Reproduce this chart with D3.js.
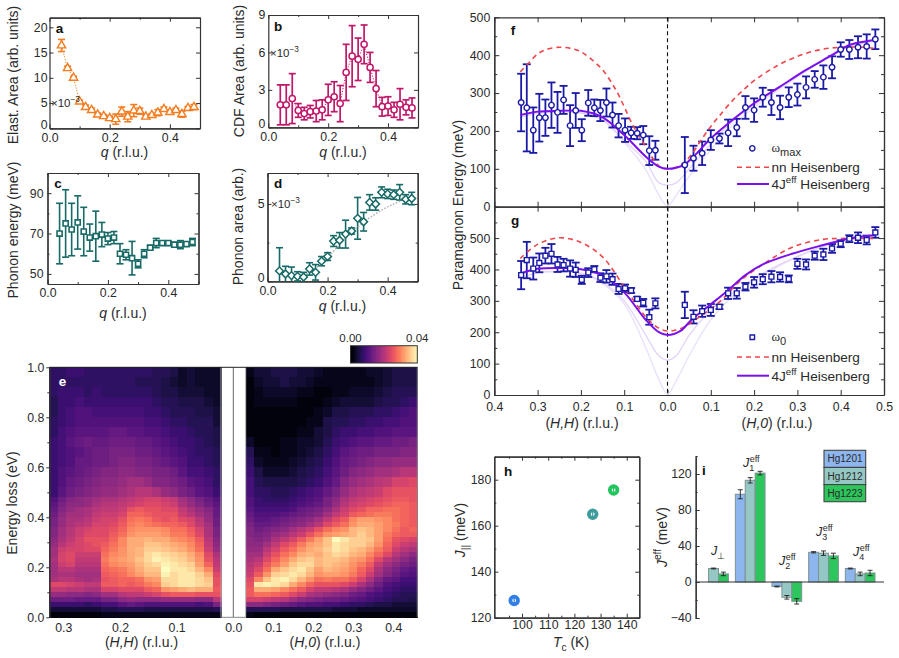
<!DOCTYPE html>
<html>
<head>
<meta charset="utf-8">
<script src="https://cdn.jsdelivr.net/npm/d3@7/dist/d3.min.js"></script>
<style>
  html, body { margin: 0; padding: 0; background: #fff; }
  svg { display: block; font-family: "Liberation Sans", Arial, sans-serif; }
</style>
</head>
<body>
<svg id="fig" width="899" height="658"></svg>
<script>
// Momentum grid shared by the RIXS fit parameters (panels a-d)
const qGrid = [0.04,0.06,0.08,0.10,0.12,0.14,0.16,0.18,0.20,0.22,0.24,0.26,0.28,0.30,0.32,0.34,0.36,0.38,0.40,0.42,0.44,0.46,0.48];

const elasticArea = [16.4,11.9,10.0,5.3,4.2,3.6,2.7,2.4,2.0,1.8,3.3,2.3,3.5,3.4,2.3,2.6,3.1,3.8,3.2,3.6,2.8,4.0,4.2];
const elasticErr  = [1.2,0.4,0.3,0.3,0.4,0.4,0.3,0.3,0.4,1.0,0.9,1.0,1.2,0.6,0.3,0.3,0.6,0.4,0.4,0.4,0.6,0.3,0.5];

const cdfArea = [1.8,1.8,2.3,1.35,1.1,1.25,1.3,1.4,2.2,2.45,1.9,4.4,5.7,5.45,6.65,4.8,3.1,1.65,1.7,1.4,1.85,1.6,1.55];
const cdfErr  = [1.6,1.6,2.0,0.55,0.5,0.5,0.85,0.8,1.25,1.2,1.45,2.25,2.45,1.7,1.55,1.2,1.45,0.75,0.75,0.6,1.25,0.6,0.8];

const phononEnergy = [70,75,72,75.5,71,68,68.7,69.5,67.5,68,60,59.5,57.8,55,60,63,65.3,65.3,65.3,64.5,64.5,64.8,65.8];
const phononEnergyErr = [15,16.7,13,13.2,12,6.7,12.4,6,3,3,5,2.5,8.3,2,2,1,2.3,0.7,0.7,1,2,1,1.8];

const phononArea = [0.67,0.47,0.37,0.32,0.28,0.8,0.58,1.3,1.6,2.6,2.65,3.05,3.25,4.07,3.85,5.1,5.0,5.75,5.65,5.6,5.75,5.3,5.35];
const phononAreaErr = [1.5,0.5,0.55,0.3,0.3,0.4,0.5,0.3,0.25,0.35,0.5,0.9,0.2,1.35,0.6,0.5,0.4,0.35,0.3,0.3,0.5,0.3,0.4];
const phononFitQ = [0.10,0.14,0.18,0.22,0.26,0.30,0.34,0.38,0.42,0.46,0.48];
const phononFit  = [0.2,0.6,1.15,1.95,2.8,3.5,4.1,4.6,5.0,5.3,5.4];

// Paramagnon dispersion; negative momenta run along (H,H), positive along (H,0)
const magnonQ = [-0.338,-0.325,-0.31,-0.296,-0.282,-0.268,-0.254,-0.24,-0.225,-0.212,-0.198,-0.183,-0.169,-0.155,-0.141,-0.127,-0.113,-0.098,-0.084,-0.07,-0.056,-0.042,-0.028,
  0.04,0.06,0.08,0.10,0.12,0.14,0.16,0.18,0.20,0.22,0.24,0.26,0.28,0.30,0.32,0.34,0.36,0.38,0.40,0.42,0.44,0.46,0.48];

const omegaMax = [275,261,202,235,235,268,249,282,214,254,202,274,261,254,275,242,214,202,195,194,189,148,149,
  110,128,141,176,180,195,209,262,255,289,275,262,289,296,315,336,342,368,415,415,421,423,442];
const omegaMaxErr = [76,115,60,63,48,60,54,37,54,46,29,34,22,28,37,33,31,31,16,16,24,38,25,
  74,33,31,26,13,35,23,30,31,25,33,31,26,29,29,22,31,29,19,25,29,32,26];

const omegaZero = [382,430,403,421,444,450,416,414,403,399,367,390,401,374,378,369,338,340,333,306,294,248,292,
  287,249,267,271,281,324,324,345,359,369,377,376,370,418,416,444,448,467,482,498,501,494,518];
const omegaZeroErr = [45,58,35,30,25,31,24,20,26,23,13,14,10,14,20,18,16,12,8,7,12,24,16,
  42,21,18,19,7,18,17,12,17,16,18,15,11,16,16,13,18,14,11,11,17,14,17];

// Model curves for the maximum-position dispersion
const nnMaxQ = [-0.34,-0.32,-0.30,-0.28,-0.25,-0.22,-0.20,-0.18,-0.15,-0.12,-0.10,-0.08,-0.05,-0.03,-0.015,0,0.02,0.04,0.06,0.08,0.10,0.12,0.15,0.18,0.20,0.25,0.30,0.35,0.40,0.45,0.48];
const nnMax  = [356,380,403,415,421,417,409,393,361,310,264,215,158,121,103,100,104,118,145,180,212,240,280,313,333,370,397,414,421,421,418];
const effMaxQ = [-0.34,-0.30,-0.25,-0.20,-0.15,-0.10,-0.05,-0.02,0,0.02,0.04,0.06,0.10,0.16,0.20,0.26,0.32,0.38,0.42,0.46,0.48];
const effMax  = [242,251,253,253,236,189,132,106,100,103,112,132,180,238,273,317,361,400,427,437,440];
const faintQ = [-0.34,-0.30,-0.25,-0.20,-0.15,-0.10,-0.05,-0.02,0,0.02,0.05,0.10,0.15,0.20,0.30,0.40,0.48];
const faintMaxA = [236,247,250,248,230,175,119,63,57,63,100,165,225,268,345,415,438];
const faintMaxB = [236,247,250,247,228,170,97,31,2,30,80,150,215,262,342,413,438];

// Model curves for the undamped-energy dispersion
const nnZeroQ = [-0.34,-0.30,-0.25,-0.20,-0.15,-0.10,-0.05,-0.02,0,0.02,0.04,0.075,0.12,0.17,0.23,0.29,0.36,0.415,0.475];
const nnZero  = [435,480,501,486,440,345,249,213,204,207,218,250,297,366,425,472,496,499,499];
const effZeroQ = [-0.34,-0.30,-0.25,-0.20,-0.15,-0.10,-0.05,-0.02,0,0.03,0.055,0.10,0.14,0.18,0.22,0.29,0.36,0.42,0.48];
const effZero  = [387,402,405,401,382,327,239,200,191,204,239,289,334,382,416,451,478,499,510];
const faintZeroQ = [-0.34,-0.30,-0.25,-0.20,-0.15,-0.10,-0.05,-0.02,0,0.02,0.05,0.10,0.15,0.20,0.30,0.40,0.48];
const faintZeroA = [370,390,393,388,360,300,190,125,111,125,190,270,325,372,442,490,508];
const faintZeroB = [370,390,393,386,355,290,150,50,2,45,125,240,315,365,440,490,508];

// Panel h: superexchange versus critical temperature
const compounds = ["Hg1201","Hg1212","Hg1223"];
const criticalTemp = [97,127,135];
const jParallel = [127.5,165,175.5];
const jParallelErr = [1.5,1.5,1.5];

// Panel i: effective couplings by compound; null marks a coupling that is absent
const couplingNames = ["Jperp","J1","J2","J3","J4"];
const hg1201Values = [null,97.5,-5,33,15];
const hg1212Values = [15,113,-17,32,9];
const hg1223Values = [9,121,-21.5,29,10];
const hg1201Errors = [null,5,0.5,0.7,0.5];
const hg1212Errors = [0.5,3,2,2.5,2];
const hg1223Errors = [2,2,3,3,3];

// RIXS intensity map (units of 1e-3). Energy bins in eV: coarse high up, finer below 0.48 eV.
const energyEdges = [1.00,0.96,0.92,0.88,0.84,0.80,0.76,0.72,0.68,0.64,0.60,0.56,0.52,0.48,0.46,0.44,0.42,0.40,0.38,0.36,0.34,0.32,0.30,0.28,0.26,0.24,0.22,0.20,0.18,0.16,0.14,0.12,0.10,0.08,0.06,0.04,0.02,0.00];
// Columns run from H = 0.325 towards H = 0.02 along (H,H)
const intensityHH = [
[7,7,8,8,7,7,7,7,7,7,7,7,6,6,5,3,4,3,3,3],
[7,7,7,7,7,7,7,7,7,7,6,6,6,5,4,3,4,3,3,3],
[7,8,8,8,7,8,7,7,7,7,7,7,6,5,5,4,4,4,3,3],
[6,8,8,9,8,8,8,8,8,8,8,8,7,6,6,5,5,5,4,3],
[6,8,9,10,10,9,9,9,9,9,9,8,8,7,6,6,6,5,5,4],
[7,8,9,10,10,10,10,10,10,10,10,9,9,8,7,7,6,6,6,4],
[7,9,10,11,11,11,11,12,12,11,11,10,10,9,8,8,7,6,6,5],
[8,9,11,12,13,12,12,13,13,13,12,12,11,10,9,8,8,7,6,5],
[8,9,10,11,12,13,13,14,14,14,13,13,12,11,10,9,8,7,7,6],
[8,9,10,12,12,13,13,14,15,15,14,14,13,12,11,10,8,8,7,6],
[8,10,11,12,13,14,15,15,16,16,15,15,14,14,13,11,9,9,8,7],
[8,10,12,13,14,15,16,16,17,18,18,17,15,15,14,13,11,10,9,7],
[8,11,13,14,15,16,17,17,18,19,20,20,19,17,16,14,13,11,10,8],
[10,13,15,16,17,18,19,19,20,21,22,23,23,22,21,18,16,14,12,10],
[11,14,16,16,17,19,20,20,21,22,23,24,24,23,22,19,17,15,13,11],
[12,15,17,18,19,20,21,21,22,25,26,25,25,24,24,21,19,17,15,12],
[13,16,18,18,19,21,22,22,23,27,27,26,25,25,25,22,20,18,16,12],
[14,17,19,19,20,22,23,23,25,28,29,28,26,25,26,24,23,20,17,13],
[14,17,19,20,21,23,23,24,26,29,30,29,28,27,27,26,24,21,18,13],
[15,18,20,22,23,24,24,25,27,30,31,31,31,30,28,28,26,23,19,14],
[15,18,20,22,24,24,24,26,28,31,32,32,32,31,29,29,27,24,19,14],
[16,19,21,23,25,25,25,27,30,33,33,34,33,33,31,30,29,26,20,15],
[17,20,22,23,24,25,26,28,30,33,33,35,35,34,33,32,30,27,21,16],
[18,22,23,23,24,24,27,29,31,33,34,36,36,35,34,33,31,28,22,17],
[18,23,24,22,22,22,28,30,31,33,34,37,38,37,36,35,33,30,24,19],
[19,23,24,21,21,21,29,31,32,33,35,37,39,38,37,36,34,31,25,20],
[18,22,23,20,20,20,28,30,31,32,34,36,37,39,38,37,36,32,27,21],
[18,20,20,19,19,19,27,28,29,31,33,35,35,40,38,38,37,34,30,22],
[18,19,19,18,18,18,26,27,28,30,32,34,34,39,37,38,38,36,33,24],
[19,20,20,19,18,19,25,26,27,27,28,31,32,37,37,38,38,37,35,25],
[24,24,23,22,21,21,26,26,27,26,27,29,30,36,37,38,38,37,36,25],
[21,21,20,20,19,19,23,23,24,24,24,26,27,31,32,33,34,33,33,26],
[17,17,16,16,15,16,18,18,20,21,21,22,23,25,26,26,26,25,25,25],
[13,13,13,12,12,12,14,14,16,17,16,16,16,17,17,17,17,16,16,20],
[8,8,8,8,7,8,9,9,11,12,11,10,10,10,10,10,10,9,10,14],
[4,4,4,4,4,4,5,5,6,6,6,5,5,5,5,5,5,5,5,6],
[1,1,1,1,1,1,2,2,2,2,2,2,2,2,2,2,2,2,2,2]
];
// Columns run from H = 0.03 to H = 0.46 along (H,0)
const intensityH0 = [
[2,4,4,5,5,5,4,4,3,2,2,2,2,2,3,3,4,5,5,5],
[1,3,4,4,5,4,4,3,2,2,2,2,2,2,2,3,4,5,5,5],
[1,2,3,3,3,3,2,2,1,1,2,2,3,3,3,4,5,6,6,6],
[1,2,2,2,2,2,1,1,1,2,3,4,4,4,4,5,6,6,7,8],
[1,1,1,1,1,1,1,1,2,3,5,5,6,6,6,7,7,8,9,10],
[1,1,1,1,1,1,1,2,2,5,6,6,7,7,8,8,9,9,10,10],
[1,1,1,1,1,1,2,2,4,5,7,8,8,9,9,10,10,11,11,11],
[3,1,1,1,2,2,3,3,4,6,8,9,10,11,11,12,12,13,13,14],
[6,2,2,1,2,2,3,4,5,7,9,11,12,13,13,14,14,14,15,15],
[7,3,2,2,2,3,4,5,6,8,10,12,13,14,15,16,16,17,17,17],
[8,5,3,3,3,4,5,6,7,9,11,13,15,16,17,18,18,19,20,20],
[9,6,5,5,5,5,6,7,8,10,12,15,17,18,19,20,21,23,23,24],
[9,7,7,6,6,7,8,9,10,12,14,17,19,20,21,22,24,25,25,25],
[10,8,7,7,7,8,9,10,11,14,16,19,21,22,23,24,25,26,26,25],
[10,8,8,8,8,9,10,11,12,14,17,20,22,23,24,25,26,27,27,26],
[11,9,9,9,9,10,12,13,14,16,19,22,24,25,27,27,28,28,27,26],
[12,10,10,10,11,12,13,14,15,18,21,23,26,27,28,29,29,28,27,26],
[13,11,11,12,13,14,15,16,18,21,24,26,30,32,32,31,30,28,27,26],
[14,12,12,13,14,15,16,18,20,24,26,28,31,33,33,32,30,29,27,26],
[15,13,14,15,16,18,20,22,25,28,30,31,34,35,34,32,30,28,26,27],
[15,14,15,17,18,20,22,25,28,31,32,33,34,36,34,32,29,27,26,26],
[16,15,16,19,21,23,26,29,32,35,40,38,36,36,35,32,28,25,24,23],
[16,16,18,21,24,26,29,32,33,35,38,37,36,36,34,31,27,24,22,21],
[17,17,20,23,26,28,31,33,34,36,38,37,35,34,32,29,26,22,20,19],
[18,18,22,25,28,30,33,34,33,35,37,36,34,33,30,27,24,20,18,16],
[19,20,24,27,30,33,35,36,34,35,35,34,32,31,28,24,20,18,16,14],
[20,22,26,29,32,35,37,37,34,35,34,33,31,29,26,21,18,16,14,13],
[21,24,28,33,35,37,38,35,32,34,33,32,30,27,24,19,16,14,12,11],
[22,26,31,36,37,38,37,34,31,32,32,31,29,26,22,18,15,13,11,10],
[24,30,35,38,39,37,34,31,28,29,28,28,26,23,19,15,12,11,9,9],
[25,38,39,38,37,33,30,27,25,25,25,24,22,19,16,13,10,9,8,8],
[26,33,33,32,30,28,26,23,21,21,20,19,17,15,13,11,9,8,7,7],
[26,28,28,27,26,24,22,19,18,17,16,15,13,12,10,9,8,7,6,6],
[23,23,22,21,20,18,16,15,14,13,13,12,11,10,9,8,7,6,6,5],
[16,16,15,14,13,12,11,10,10,9,9,8,7,7,6,5,5,4,4,4],
[6,6,6,6,5,5,5,5,5,5,4,4,4,3,3,3,3,3,3,3],
[2,1,1,1,1,1,1,1,1,1,1,1,1,1,1,1,1,1,1,1]
];

const ink = "#2a2a2a";
const svg = d3.select("#fig");

// Text made of plain, italic, sub- and superscript runs
function richText(parent, x, y, parts, opt = {}) {
  const size = opt.size || 14;
  const t = parent.append("text")
    .attr("transform", `translate(${x},${y})` + (opt.rotate ? ` rotate(${opt.rotate})` : ""))
    .attr("text-anchor", opt.anchor || "start")
    .attr("font-size", size)
    .attr("fill", opt.fill || ink);
  let offset = 0;
  parts.forEach(p => {
    const target = p.sub ? size * 0.32 : p.sup ? -size * 0.42 : 0;
    const ts = t.append("tspan").text(p.t).attr("dy", target - offset);
    if (p.dx) ts.attr("dx", p.dx);
    if (p.i) ts.attr("font-style", "italic");
    if (p.font) ts.attr("font-family", p.font);
    if (p.sub || p.sup) ts.attr("font-size", size * (p.scale || 0.72));
    offset = target;
  });
  return t;
}

function styleAxis(g) {
  g.selectAll(".domain").attr("stroke", "#333").attr("stroke-width", 1.2);
  g.selectAll(".tick line").attr("stroke", "#333").attr("stroke-width", 1);
  g.selectAll("text").attr("fill", ink).attr("font-family", null).attr("font-size", 12.3);
}

// Boxed frame with inward ticks on all four sides
function frame(o) {
  const x = d3.scaleLinear().domain(o.xDomain).range([o.left, o.right]);
  const y = d3.scaleLinear().domain(o.yDomain).range([o.bottom, o.top]);
  const g = svg.append("g");
  const xFmt = o.xFormat || d3.format(".1f");
  const yFmt = o.yFormat || (d => d);
  const majorLen = o.majorLen || 4, minorLen = o.minorLen || 2;
  const layers = [
    [d3.axisBottom(x).tickValues(o.xTicks).tickSize(-majorLen).tickSizeOuter(0).tickPadding(o.xPad ?? 4).tickFormat(o.noXLabels ? "" : xFmt), `translate(0,${o.bottom})`],
    [d3.axisLeft(y).tickValues(o.yTicks).tickSize(-majorLen).tickSizeOuter(0).tickPadding(o.yPad ?? 3).tickFormat(yFmt), `translate(${o.left},0)`],
    [d3.axisTop(x).tickValues(o.xTicks).tickSize(-majorLen).tickSizeOuter(0).tickFormat(""), `translate(0,${o.top})`],
    [d3.axisRight(y).tickValues(o.yTicks).tickSize(-majorLen).tickSizeOuter(0).tickFormat(""), `translate(${o.right},0)`]
  ];
  if (o.xMinor) {
    layers.push([d3.axisBottom(x).tickValues(o.xMinor).tickSize(-minorLen).tickSizeOuter(0).tickFormat(""), `translate(0,${o.bottom})`]);
    layers.push([d3.axisTop(x).tickValues(o.xMinor).tickSize(-minorLen).tickSizeOuter(0).tickFormat(""), `translate(0,${o.top})`]);
  }
  if (o.yMinor) {
    layers.push([d3.axisLeft(y).tickValues(o.yMinor).tickSize(-minorLen).tickSizeOuter(0).tickFormat(""), `translate(${o.left},0)`]);
    layers.push([d3.axisRight(y).tickValues(o.yMinor).tickSize(-minorLen).tickSizeOuter(0).tickFormat(""), `translate(${o.right},0)`]);
  }
  layers.forEach(([axis, tr], i) => {
    const a = g.append("g").attr("transform", tr).call(axis).call(styleAxis);
    // Lift the y-axis zero so it clears the x-axis labels beneath it
    if (i === 1 && o.liftZero) {
      a.selectAll(".tick").filter(d => d === 0).select("text").attr("transform", "translate(0,-4)");
    }
  });
  return { x, y, g };
}

function errorBars(parent, xs, ys, errs, x, y, color, capWidth, width) {
  const cap = capWidth / 2;
  xs.forEach((q, i) => {
    const a = y(ys[i] - errs[i]), b = y(ys[i] + errs[i]);
    const yBase = y.range()[0];
    const yLow = Math.min(a, yBase);
    const g = parent.append("g").attr("stroke", color).attr("stroke-width", width);
    g.append("line").attr("x1", x(q)).attr("x2", x(q)).attr("y1", yLow).attr("y2", b);
    if (a <= yBase) g.append("line").attr("x1", x(q) - cap).attr("x2", x(q) + cap).attr("y1", a).attr("y2", a);
    g.append("line").attr("x1", x(q) - cap).attr("x2", x(q) + cap).attr("y1", b).attr("y2", b);
  });
}

function markers(parent, xs, ys, x, y, type, size, color, strokeWidth, rotate = 0) {
  const path = d3.symbol().type(type).size(size)();
  parent.selectAll(null).data(xs).join("path")
    .attr("d", path)
    .attr("transform", (q, i) => `translate(${x(q)},${y(ys[i])}) rotate(${rotate})`)
    .attr("fill", "#fff").attr("stroke", color).attr("stroke-width", strokeWidth);
}

function curve(parent, xs, ys, x, y, color, width, dash, factory = d3.curveCatmullRom) {
  const line = d3.line().x(d => x(d[0])).y(d => y(d[1])).curve(factory);
  parent.append("path").attr("d", line(xs.map((q, i) => [q, ys[i]])))
    .attr("fill", "none").attr("stroke", color).attr("stroke-width", width)
    .attr("stroke-dasharray", dash || null);
}

function panelLetter(x, y, letter, fill = "#111") {
  svg.append("text").attr("x", x).attr("y", y).attr("text-anchor", "middle")
    .attr("font-size", 13.5).attr("font-weight", "bold").attr("fill", fill).text(letter);
}

function qTitle(x, y) {
  richText(svg, x, y, [{ t: "q", i: true }, { t: " (r.l.u.)" }], { anchor: "middle" });
}
function yTitle(x, y, label) {
  richText(svg, x, y, [{ t: label }], { anchor: "middle", rotate: -90 });
}
function scaleNote(x, y) {
  richText(svg, x, y, [{ t: "×10" }, { t: "−3", sup: true }], { size: 11.5 });
}

const xMinorQ = [0.1, 0.3, 0.5];

// Panel a: elastic line area
{
  const p = frame({ left: 49.5, right: 200, top: 17.7, bottom: 128.3, xDomain: [0, 0.5], yDomain: [0, 21.9],
    xTicks: [0, 0.2, 0.4], xMinor: xMinorQ, yTicks: [0, 5, 10, 15, 20], xPad: 5, yPad: 2, liftZero: true });
  curve(p.g, qGrid, elasticArea, p.x, p.y, "#f58220", 1, "1.2 1.6", d3.curveLinear);
  errorBars(p.g, qGrid, elasticArea, elasticErr, p.x, p.y, "#f57c1f", 7, 1.6);
  markers(p.g, qGrid, elasticArea, p.x, p.y, d3.symbolTriangle, 30, "#f57c1f", 1.4);
  panelLetter(59.5, 33, "a");
  scaleNote(51, 107);
  qTitle(124.5, 156.5);
  yTitle(17.5, 75, "Elast. Area (arb. units)");
}

// Panel b: charge density fluctuation area
{
  const p = frame({ left: 268.3, right: 418, top: 15, bottom: 127.3, xDomain: [0, 0.5], yDomain: [0, 9],
    xTicks: [0, 0.2, 0.4], xMinor: xMinorQ, yTicks: [0, 3, 6, 9], xPad: 5, yPad: 3, liftZero: true });
  curve(p.g, qGrid, cdfArea, p.x, p.y, "#c2185b", 1, "1.2 1.6", d3.curveLinear);
  errorBars(p.g, qGrid, cdfArea, cdfErr, p.x, p.y, "#c0176a", 7, 1.7);
  markers(p.g, qGrid, cdfArea, p.x, p.y, d3.symbolCircle, 30, "#c0176a", 1.5);
  panelLetter(278, 31, "b");
  scaleNote(270, 57);
  qTitle(343, 156.5);
  yTitle(243.5, 71, "CDF Area (arb. units)");
}

// Panel c: phonon energy
{
  const p = frame({ left: 47.5, right: 198.5, top: 173, bottom: 284, xDomain: [0, 0.5], yDomain: [45, 100],
    xTicks: [0, 0.2, 0.4], xMinor: xMinorQ, yTicks: [50, 70, 90], yMinor: [60, 80, 100], yPad: 4 });
  errorBars(p.g, qGrid, phononEnergy, phononEnergyErr, p.x, p.y, "#176a66", 7, 1.6);
  markers(p.g, qGrid, phononEnergy, p.x, p.y, d3.symbolSquare, 26, "#176a66", 1.6);
  panelLetter(58, 188, "c");
  qTitle(123, 318);
  yTitle(17.5, 230, "Phonon energy (meV)");
}

// Panel d: phonon area with its smooth fit
{
  const p = frame({ left: 267.5, right: 417.7, top: 173, bottom: 281.3, xDomain: [0, 0.5], yDomain: [0, 7],
    xTicks: [0, 0.2, 0.4], xMinor: xMinorQ, yTicks: [0, 5], yMinor: [2.5], xPad: 5, yPad: 3, liftZero: true });
  errorBars(p.g, qGrid, phononArea, phononAreaErr, p.x, p.y, "#176a66", 7, 1.6);
  curve(p.g, phononFitQ, phononFit, p.x, p.y, "#b5b5b5", 1.6, "1.6 1.6");
  markers(p.g, qGrid, phononArea, p.x, p.y, d3.symbolSquare, 30, "#176a66", 1.5, 45);
  panelLetter(278, 188, "d");
  scaleNote(271, 208);
  qTitle(342.5, 310.5);
  yTitle(243, 226.5, "Phonon area (arb.)");
}

// Panel e: intensity maps either side of the blocked specular window
{
  const color = d3.scaleSequential(d3.interpolateMagma).domain([0, 40]);
  const top = 367.3, bottom = 617.3, zeroX = 233.3;
  const y = d3.scaleLinear().domain([0, 1]).range([bottom, top]);
  const xHH = d3.scaleLinear().domain([0, 0.3]).range([zeroX, 63.3]);
  const xH0 = d3.scaleLinear().domain([0, 0.4]).range([zeroX, 393.3]);
  const bins = d3.pairs(energyEdges);
  const cells = svg.append("g").attr("shape-rendering", "crispEdges");
  const drawMap = (rows, x, qStart, qEnd) => {
    const nCols = rows[0].length;
    const width = (qEnd - qStart) / nCols;
    rows.forEach((row, r) => {
      const [eHigh, eLow] = bins[r];
      row.forEach((v, c) => {
        const x0 = x(qStart + c * width), x1 = x(qStart + (c + 1) * width);
        cells.append("rect")
          .attr("x", Math.min(x0, x1)).attr("width", Math.abs(x1 - x0) + 0.5)
          .attr("y", y(eHigh)).attr("height", y(eLow) - y(eHigh) + 0.5)
          .attr("fill", color(v));
      });
    });
  };
  drawMap(intensityHH, xHH, 0.325, 0.0215);
  drawMap(intensityH0, xH0, 0.031, 0.46);

  // Frame, centre line and the blocked window
  const axes = svg.append("g");
  axes.append("line").attr("x1", 221).attr("x2", 221).attr("y1", top).attr("y2", bottom).attr("stroke", "#aaa");
  axes.append("line").attr("x1", 245.7).attr("x2", 245.7).attr("y1", top).attr("y2", bottom).attr("stroke", "#aaa");
  axes.append("line").attr("x1", zeroX).attr("x2", zeroX).attr("y1", top).attr("y2", bottom).attr("stroke", "#666").attr("stroke-width", 1);
  axes.append("line").attr("x1", 49.3).attr("x2", 417.3).attr("y1", top).attr("y2", top).attr("stroke", "#222").attr("stroke-width", 1);
  axes.append("line").attr("x1", 221).attr("x2", 245.7).attr("y1", bottom).attr("y2", bottom).attr("stroke", "#888");
  axes.append("line").attr("x1", 417.3).attr("x2", 417.3).attr("y1", top).attr("y2", bottom).attr("stroke", "#888");
  axes.append("g").attr("transform", "translate(49.3,0)")
    .call(d3.axisLeft(y).tickValues([0, 0.2, 0.4, 0.6, 0.8, 1]).tickSize(3).tickSizeOuter(0).tickPadding(2).tickFormat(d3.format(".1f")))
    .call(styleAxis);
  axes.append("g").attr("transform", "translate(49.3,0)")
    .call(d3.axisLeft(y).tickValues([0.1, 0.3, 0.5, 0.7, 0.9]).tickSize(2).tickSizeOuter(0).tickFormat(""))
    .call(styleAxis);
  axes.append("g").attr("transform", `translate(0,${bottom})`)
    .call(d3.axisBottom(xHH).tickValues([0.3, 0.2, 0.1]).tickSize(0).tickSizeOuter(0).tickPadding(5.5).tickFormat(d3.format(".1f")))
    .call(styleAxis).call(g => g.select(".domain").remove());
  axes.append("g").attr("transform", `translate(0,${bottom})`)
    .call(d3.axisBottom(xH0).tickValues([0, 0.1, 0.2, 0.3, 0.4]).tickSize(0).tickSizeOuter(0).tickPadding(5.5).tickFormat(d3.format(".1f")))
    .call(styleAxis).call(g => g.select(".domain").remove());

  panelLetter(62.5, 386, "e", "#fff");
  richText(svg, 141.5, 647, [{ t: "(" }, { t: "H,H", i: true }, { t: ") (r.l.u.)" }], { anchor: "middle" });
  richText(svg, 325, 647, [{ t: "(" }, { t: "H,0", i: true }, { t: ") (r.l.u.)" }], { anchor: "middle" });
  yTitle(17, 503, "Energy loss (eV)");

  // Colour bar
  const barX = d3.scaleLinear().domain([0, 40]).range([350.5, 417.3]);
  const bar = svg.append("g").attr("shape-rendering", "crispEdges");
  d3.range(0, 40, 0.5).forEach(v => {
    bar.append("rect").attr("x", barX(v)).attr("width", barX(0.5) - barX(0) + 0.5)
      .attr("y", 345.7).attr("height", 17.3).attr("fill", color(v));
  });
  svg.append("rect").attr("x", 350.5).attr("y", 345.7).attr("width", 66.8).attr("height", 17.3)
    .attr("fill", "none").attr("stroke", "#333").attr("stroke-width", 1);
  svg.selectAll(null).data([0, 40]).join("text")
    .attr("x", d => barX(d)).attr("y", 342).attr("text-anchor", "middle")
    .attr("font-size", 11.5).attr("fill", ink).text(d => (d / 1000).toFixed(2));
}

// Shared frame for the two dispersion panels
function dispersionFrame(top, bottom, yMax, yTicks, yMinor, labels) {
  return frame({ left: 494.3, right: 884, top, bottom, xDomain: [-0.4, 0.5], yDomain: [0, yMax],
    xTicks: [-0.4, -0.3, -0.2, -0.1, 0, 0.1, 0.2, 0.3, 0.4, 0.5], xFormat: d => Math.abs(d).toFixed(1), noXLabels: !labels,
    yTicks, yMinor, xPad: 7.5, yPad: 4, majorLen: 5, minorLen: 3 });
}

function drawDispersion(p, faintQs, faintA, faintB, nnQ, nn, effQ, eff, ys, errs, type, size) {
  curve(p.g, faintQs, faintB, p.x, p.y, "#eadffb", 1.3);
  curve(p.g, faintQs, faintA, p.x, p.y, "#e2d3fa", 1.3);
  p.g.append("line").attr("x1", p.x(0)).attr("x2", p.x(0)).attr("y1", p.y.range()[1]).attr("y2", p.y.range()[0])
    .attr("stroke", "#111").attr("stroke-width", 1.1).attr("stroke-dasharray", "4 3");
  errorBars(p.g, magnonQ, ys, errs, p.x, p.y, "#1a1aa6", 8, 1.8);
  curve(p.g, nnQ, nn, p.x, p.y, "#f0454a", 1.6, "5 4");
  curve(p.g, effQ, eff, p.x, p.y, "#7a10ee", 2);
  markers(p.g, magnonQ, ys, p.x, p.y, type, size, "#1a1aa6", 1.4);
}

function dispersionLegend(y0, y1, y2, type, size, parts) {
  const g = svg.append("g");
  const path = d3.symbol().type(type).size(size)();
  g.append("path").attr("d", path).attr("transform", `translate(752.3,${y0})`)
    .attr("fill", "#fff").attr("stroke", "#1a1aa6").attr("stroke-width", 1.4);
  richText(g, 771.5, y0 + 4, parts, { size: 13 });
  g.append("line").attr("x1", 737).attr("x2", 769).attr("y1", y1).attr("y2", y1)
    .attr("stroke", "#f0454a").attr("stroke-width", 1.6).attr("stroke-dasharray", "5 4");
  richText(g, 771.5, y1 + 5, [{ t: "nn Heisenberg" }], { size: 13.6 });
  g.append("line").attr("x1", 737).attr("x2", 769).attr("y1", y2).attr("y2", y2)
    .attr("stroke", "#7a10ee").attr("stroke-width", 2);
  richText(g, 771.5, y2 + 5, [{ t: "4J" }, { t: "eff", sup: true }, { t: " Heisenberg" }], { size: 13.6 });
}

// Panel f: dispersion of the spectral maximum
{
  const p = dispersionFrame(17.3, 206.7, 500, [0, 100, 200, 300, 400, 500], [50, 150, 250, 350, 450], false);
  drawDispersion(p, faintQ, faintMaxA, faintMaxB, nnMaxQ, nnMax, effMaxQ, effMax, omegaMax, omegaMaxErr, d3.symbolCircle, 24);
  dispersionLegend(148.3, 167.3, 184, d3.symbolCircle, 22,
    [{ t: "ω", font: "Liberation Serif" }, { t: "max", sub: true, scale: 0.85 }]);
  panelLetter(513, 35, "f");
}

// Panel g: dispersion of the undamped energy
{
  const p = dispersionFrame(206.7, 395, 600, [0, 100, 200, 300, 400, 500], [50, 150, 250, 350, 450, 550], true);
  drawDispersion(p, faintZeroQ, faintZeroA, faintZeroB, nnZeroQ, nnZero, effZeroQ, effZero, omegaZero, omegaZeroErr, d3.symbolSquare, 24);
  dispersionLegend(337.3, 357, 375.7, d3.symbolSquare, 20,
    [{ t: "ω", font: "Liberation Serif" }, { t: "0", sub: true, scale: 0.85 }]);
  panelLetter(515, 225, "g");
  richText(svg, 582, 428, [{ t: "(" }, { t: "H,H", i: true }, { t: ") (r.l.u.)" }], { anchor: "middle" });
  richText(svg, 777, 428, [{ t: "(" }, { t: "H,0", i: true }, { t: ") (r.l.u.)" }], { anchor: "middle" });
}
yTitle(463, 205, "Paramagnon Energy (meV)");

// Panel h
{
  const p = frame({ left: 494.3, right: 639.3, top: 456.7, bottom: 617.7, xDomain: [89.4, 144.8], yDomain: [120, 190],
    xTicks: [100, 110, 120, 130, 140], xMinor: [95, 105, 115, 125, 135], yTicks: [120, 140, 160, 180], yMinor: [130, 150, 170, 190],
    xFormat: d => d, xPad: 3, yPad: 3 });
  const compoundColor = d3.scaleOrdinal().domain(compounds).range(["#2f7fe6", "#3f9c9c", "#22c55e"]);
  compounds.forEach((c, i) => {
    const col = compoundColor(c);
    p.g.append("circle").attr("cx", p.x(criticalTemp[i])).attr("cy", p.y(jParallel[i])).attr("r", 3.8)
      .attr("fill", "#fff").attr("stroke", col).attr("stroke-width", 3.8);
    p.g.append("line").attr("x1", p.x(criticalTemp[i])).attr("x2", p.x(criticalTemp[i]))
      .attr("y1", p.y(jParallel[i] - jParallelErr[i])).attr("y2", p.y(jParallel[i] + jParallelErr[i]))
      .attr("stroke", col).attr("stroke-width", 1.2);
  });
  panelLetter(508, 476, "h");
  richText(svg, 571, 646.5, [{ t: "T", i: true }, { t: "c", sub: true }, { t: " (K)" }], { anchor: "middle" });
  richText(svg, 465, 530, [{ t: "J", i: true }, { t: "||", sub: true }, { t: " (meV)" }], { anchor: "middle", rotate: -90 });
}

// Panel i: grouped bars of the effective couplings
{
  const seriesValues = [hg1201Values, hg1212Values, hg1223Values];
  const seriesErrors = [hg1201Errors, hg1212Errors, hg1223Errors];
  const seriesFill = d3.scaleOrdinal().domain(compounds).range(["#8db5ee", "#95c8c4", "#2dc65c"]);
  const group = d3.scaleBand().domain(couplingNames).range([698.7, 875]).paddingInner(0.19).paddingOuter(0);
  const member = d3.scaleBand().domain(compounds).range([0, group.bandwidth()]);
  const y = d3.scaleLinear().domain([-40, 140]).range([618, 456]);
  const g = svg.append("g");
  compounds.forEach((c, s) => {
    couplingNames.forEach((name, i) => {
      const v = seriesValues[s][i];
      if (v === null) return;
      const x0 = group(name) + member(c);
      g.append("rect").attr("x", x0).attr("width", member.bandwidth())
        .attr("y", y(Math.max(v, 0))).attr("height", Math.abs(y(v) - y(0)))
        .attr("fill", seriesFill(c)).attr("stroke", "#7e9294").attr("stroke-width", 1);
    });
  });
  compounds.forEach((c, s) => {
    couplingNames.forEach((name, i) => {
      const v = seriesValues[s][i];
      if (v === null) return;
      const cx = group(name) + member(c) + member.bandwidth() / 2;
      const e = seriesErrors[s][i];
      const eb = g.append("g").attr("stroke", "#222").attr("stroke-width", 0.9);
      eb.append("line").attr("x1", cx).attr("x2", cx).attr("y1", y(v - e)).attr("y2", y(v + e));
      eb.append("line").attr("x1", cx - 2.5).attr("x2", cx + 2.5).attr("y1", y(v - e)).attr("y2", y(v - e));
      eb.append("line").attr("x1", cx - 2.5).attr("x2", cx + 2.5).attr("y1", y(v + e)).attr("y2", y(v + e));
    });
  });
  g.append("line").attr("x1", 695.7).attr("x2", 884).attr("y1", y(0)).attr("y2", y(0)).attr("stroke", "#333").attr("stroke-width", 1.2);
  svg.append("g").attr("transform", "translate(695.7,0)")
    .call(d3.axisLeft(y).tickValues([-40, 0, 40, 80, 120]).tickSize(-4).tickSizeOuter(0).tickPadding(4).tickFormat(d => d < 0 ? "−" + (-d) : d))
    .call(styleAxis);
  svg.append("g").attr("transform", "translate(695.7,0)")
    .call(d3.axisLeft(y).tickValues([-20, 20, 60, 100, 140]).tickSize(-2).tickSizeOuter(0).tickFormat(""))
    .call(styleAxis);

  panelLetter(704, 475, "i");
  richText(svg, 667, 537, [{ t: "J", i: true }, { t: "eff", sup: true }, { t: " (meV)" }], { anchor: "middle", rotate: -90 });

  // Labels above each group: J with stacked sub- and superscript
  const coupling = (x, y0, sub) => richText(svg, x, y0, sub === "⊥"
      ? [{ t: "J", i: true }, { t: "⊥", sub: true }]
      : [{ t: "J", i: true }, { t: sub, sub: true }, { t: "eff", sup: true, dx: -4.5 }],
    { size: 12.5 });
  coupling(711, 555, "⊥");
  coupling(743, 467, "1");
  coupling(779, 565, "2");
  coupling(816, 536, "3");
  coupling(853, 556, "4");

  // Compound key
  const row = d3.scaleBand().domain(compounds).range([450.3, 501.7]);
  compounds.forEach(c => {
    svg.append("rect").attr("x", 824).attr("width", 41.7).attr("y", row(c)).attr("height", row.bandwidth())
      .attr("fill", seriesFill(c)).attr("stroke", "#444").attr("stroke-width", 1.1);
    svg.append("text").attr("x", 845).attr("y", row(c) + row.bandwidth() / 2 + 3.5).attr("text-anchor", "middle")
      .attr("font-size", 10).attr("fill", ink).text(c);
  });
}
</script>
</body>
</html>
